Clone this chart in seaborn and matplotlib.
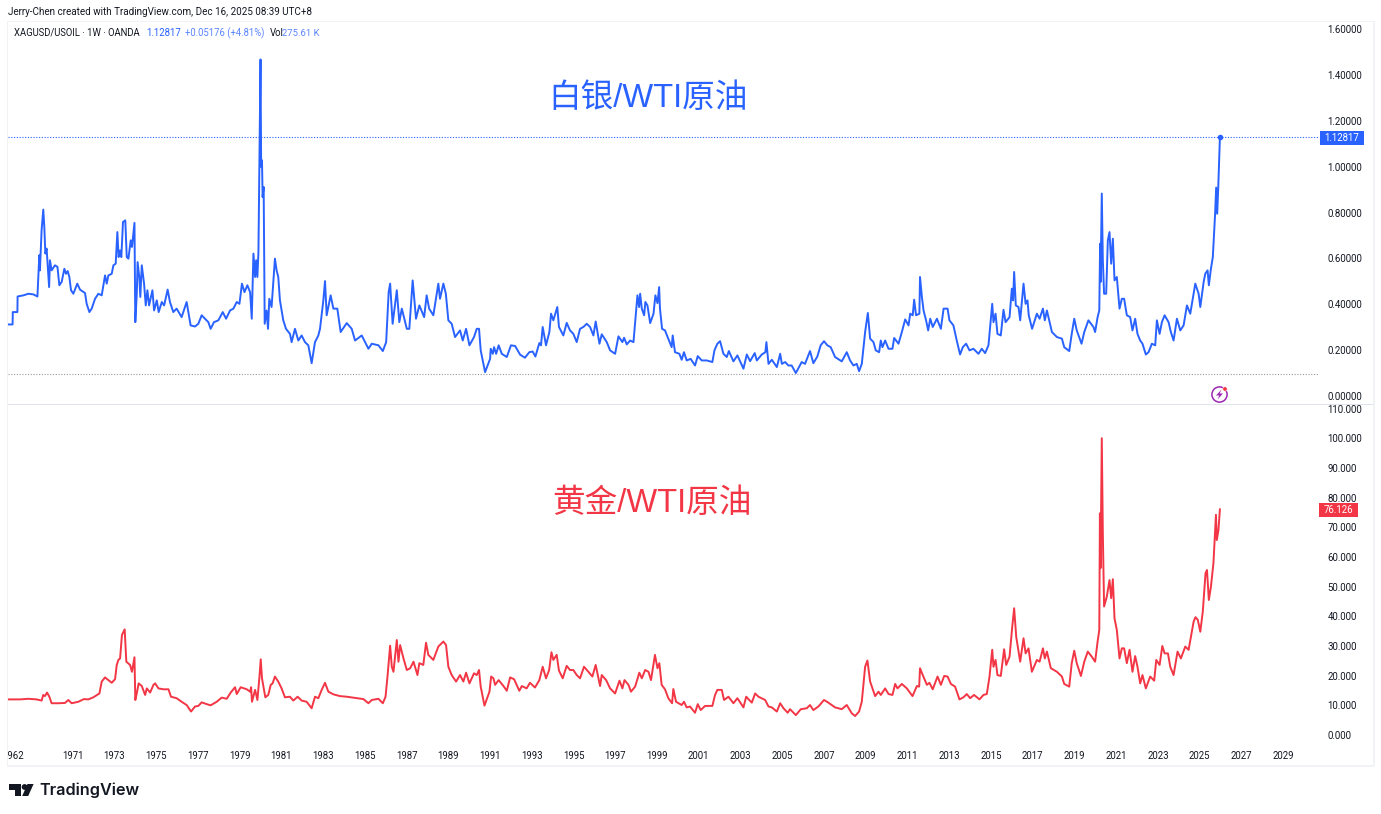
import matplotlib
matplotlib.use("Agg")
import matplotlib.pyplot as plt
import matplotlib.transforms as mtrans
from matplotlib.patches import Rectangle, Polygon, Circle
from matplotlib.ticker import FuncFormatter
import pandas as pd
import seaborn as sns

# ---- data: chart-scale years and ratio values ----
silver_years = [
1967.90,1968.12,1968.13,1968.35,1968.36,1968.64,1968.88,1969.12,1969.31,1969.37,
1969.40,1969.43,1969.51,1969.59,1969.64,1969.69,1969.75,1969.87,1969.91,1969.99,
1970.15,1970.27,1970.36,1970.47,1970.60,1970.68,1970.76,1970.84,1970.92,1971.03,
1971.22,1971.35,1971.59,1971.67,1971.80,1971.91,1972.07,1972.23,1972.39,1972.55,
1972.63,1972.71,1972.87,1972.95,1973.06,1973.14,1973.20,1973.27,1973.33,1973.41,
1973.52,1973.59,1973.67,1973.78,1973.84,1973.96,1974.00,1974.07,1974.11,1974.19,
1974.24,1974.31,1974.42,1974.50,1974.58,1974.66,1974.82,1974.90,1975.03,1975.12,
1975.27,1975.38,1975.55,1975.66,1975.82,1975.98,1976.22,1976.46,1976.65,1976.86,
1977.02,1977.18,1977.34,1977.50,1977.61,1977.77,1977.98,1978.19,1978.35,1978.54,
1978.70,1978.86,1978.99,1979.11,1979.23,1979.37,1979.50,1979.58,1979.66,1979.74,
1979.79,1979.85,1979.90,1979.96,1980.00,1980.03,1980.07,1980.10,1980.15,1980.20,
1980.29,1980.36,1980.42,1980.53,1980.69,1980.77,1980.85,1980.93,1981.09,1981.22,
1981.41,1981.49,1981.65,1981.81,1981.97,1982.13,1982.29,1982.45,1982.61,1982.77,
1982.85,1983.01,1983.09,1983.17,1983.36,1983.49,1983.68,1983.84,1984.13,1984.37,
1984.53,1984.85,1985.17,1985.33,1985.65,1985.86,1986.02,1986.14,1986.21,1986.33,
1986.53,1986.65,1986.77,1987.01,1987.13,1987.29,1987.45,1987.61,1987.84,1987.96,
1988.08,1988.28,1988.44,1988.52,1988.60,1988.76,1988.88,1989.00,1989.16,1989.32,
1989.56,1989.69,1989.85,1990.01,1990.23,1990.36,1990.47,1990.55,1990.76,1991.00,
1991.03,1991.13,1991.19,1991.29,1991.41,1991.56,1991.80,1992.00,1992.20,1992.44,
1992.67,1992.88,1993.04,1993.17,1993.36,1993.44,1993.52,1993.68,1993.84,1993.92,
1994.03,1994.22,1994.30,1994.51,1994.67,1994.83,1994.99,1995.15,1995.31,1995.47,
1995.63,1995.79,1995.95,1996.06,1996.24,1996.35,1996.59,1996.75,1996.99,1997.15,
1997.34,1997.42,1997.55,1997.71,1997.87,1997.98,1998.06,1998.14,1998.19,1998.27,
1998.38,1998.44,1998.54,1998.67,1998.83,1998.92,1999.02,1999.10,1999.14,1999.24,
1999.38,1999.54,1999.70,1999.75,1999.86,2000.07,2000.18,2000.29,2000.42,2000.61,
2000.82,2000.95,2001.14,2001.38,2001.65,2001.75,2001.89,2002.02,2002.18,2002.34,
2002.44,2002.66,2002.85,2003.14,2003.30,2003.46,2003.68,2003.78,2004.02,2004.19,
2004.24,2004.34,2004.50,2004.74,2004.90,2004.98,2005.14,2005.29,2005.45,2005.65,
2005.93,2006.09,2006.33,2006.49,2006.68,2006.84,2007.00,2007.16,2007.32,2007.53,
2007.85,2008.09,2008.25,2008.41,2008.57,2008.68,2008.81,2008.97,2009.10,2009.21,
2009.37,2009.48,2009.64,2009.72,2009.80,2009.93,2010.09,2010.28,2010.36,2010.57,
2010.73,2010.89,2011.05,2011.13,2011.25,2011.32,2011.41,2011.57,2011.60,2011.69,
2011.77,2011.89,2011.99,2012.09,2012.21,2012.41,2012.60,2012.73,2012.92,2013.01,
2013.20,2013.36,2013.52,2013.65,2013.81,2013.97,2014.16,2014.40,2014.56,2014.72,
2014.88,2014.96,2015.06,2015.12,2015.22,2015.31,2015.47,2015.60,2015.70,2015.89,
2016.00,2016.06,2016.11,2016.19,2016.32,2016.40,2016.56,2016.66,2016.75,2016.81,
2016.97,2017.20,2017.33,2017.49,2017.58,2017.68,2017.92,2018.16,2018.40,2018.51,
2018.75,2018.87,2018.99,2019.11,2019.34,2019.47,2019.67,2019.91,2019.99,2020.11,
2020.19,2020.23,2020.25,2020.31,2020.36,2020.42,2020.52,2020.60,2020.68,2020.76,
2020.84,2020.92,2021.03,2021.16,2021.27,2021.38,2021.51,2021.67,2021.78,2021.91,
2022.02,2022.15,2022.26,2022.42,2022.55,2022.71,2022.87,2022.95,2023.08,2023.19,
2023.32,2023.51,2023.62,2023.75,2023.91,2024.07,2024.23,2024.39,2024.55,2024.71,
2024.79,2024.95,2025.03,2025.19,2025.27,2025.38,2025.44,2025.54,2025.63,2025.74,
2025.79,2025.84,2025.89,2025.97]
silver_values = [
.312,.312,.366,.366,.434,.439,.446,.443,.434,.548,
.614,.548,.723,.813,.737,.621,.643,.475,.592,.548,
.570,.563,.483,.497,.555,.533,.545,.519,.461,.446,
.490,.464,.449,.402,.366,.381,.424,.446,.439,.526,
.490,.526,.533,.570,.577,.715,.606,.635,.606,.759,
.766,.606,.599,.679,.650,.755,.322,.446,.584,.519,
.432,.570,.490,.395,.461,.395,.461,.373,.417,.366,
.410,.395,.464,.410,.366,.381,.344,.410,.308,.303,
.315,.352,.337,.322,.293,.322,.330,.366,.337,.373,
.381,.410,.402,.490,.453,.483,.453,.337,.621,.519,
.592,.519,.628,1.130,1.468,.999,1.028,.868,.912,.315,
.373,.293,.424,.388,.599,.548,.519,.417,.330,.293,
.271,.235,.293,.242,.264,.235,.221,.143,.235,.264,
.293,.417,.501,.352,.439,.381,.381,.279,.318,.293,
.242,.264,.206,.228,.221,.196,.235,.453,.490,.315,
.461,.322,.381,.293,.293,.504,.337,.395,.344,.439,
.381,.352,.446,.490,.424,.490,.446,.330,.315,.257,
.286,.242,.293,.221,.257,.293,.293,.199,.104,.162,
.206,.184,.213,.184,.221,.184,.170,.221,.218,.180,
.167,.191,.194,.172,.231,.221,.301,.221,.279,.359,
.330,.388,.301,.264,.319,.286,.271,.235,.293,.301,
.315,.301,.264,.325,.228,.269,.235,.199,.184,.260,
.235,.254,.225,.242,.235,.352,.439,.388,.446,.381,
.352,.410,.395,.318,.359,.439,.405,.475,.381,.293,
.286,.250,.213,.264,.191,.184,.158,.191,.155,.162,
.133,.174,.155,.155,.148,.199,.228,.239,.184,.170,
.196,.151,.177,.119,.181,.152,.187,.155,.181,.191,
.235,.140,.158,.126,.184,.140,.148,.133,.133,.100,
.148,.140,.196,.143,.172,.221,.239,.221,.213,.170,
.151,.191,.155,.133,.140,.108,.140,.279,.362,.250,
.235,.199,.191,.242,.213,.242,.206,.206,.253,.228,
.279,.334,.308,.359,.352,.420,.352,.359,.519,.432,
.373,.330,.286,.337,.301,.337,.293,.381,.381,.330,
.308,.242,.181,.213,.228,.199,.206,.184,.206,.187,
.221,.301,.402,.322,.359,.271,.264,.376,.322,.344,
.468,.417,.541,.395,.388,.330,.490,.402,.417,.352,
.293,.359,.337,.381,.330,.373,.279,.257,.250,.213,
.196,.271,.337,.286,.228,.279,.330,.301,.279,.344,
.373,.664,.497,.883,.592,.446,.446,.679,.715,.577,
.686,.504,.519,.381,.424,.424,.352,.344,.286,.337,
.271,.242,.228,.181,.191,.228,.221,.330,.271,.322,
.352,.322,.279,.242,.337,.286,.308,.395,.359,.446,
.490,.446,.388,.497,.534,.548,.483,.555,.606,.795,
.909,.795,.909,1.12817]

gold_years = [
1967.90,1968.48,1968.88,1969.27,1969.51,1969.59,1969.67,1969.77,1969.88,1969.99,
1970.31,1970.63,1970.79,1970.95,1971.27,1971.54,1971.75,1971.99,1972.28,1972.39,
1972.55,1972.71,1972.87,1973.03,1973.11,1973.19,1973.27,1973.36,1973.49,1973.57,
1973.75,1973.84,1973.96,1974.00,1974.07,1974.16,1974.31,1974.47,1974.55,1974.71,
1974.87,1974.95,1975.11,1975.35,1975.59,1975.71,1975.98,1976.22,1976.46,1976.67,
1976.86,1977.02,1977.18,1977.42,1977.61,1977.90,1978.14,1978.38,1978.57,1978.78,
1978.86,1979.05,1979.34,1979.50,1979.55,1979.59,1979.74,1979.85,1979.95,1980.01,
1980.07,1980.23,1980.37,1980.49,1980.58,1980.69,1980.85,1981.01,1981.17,1981.41,
1981.57,1981.78,1981.97,1982.21,1982.45,1982.61,1982.77,1982.93,1983.09,1983.25,
1983.49,1983.81,1984.13,1984.53,1984.93,1985.17,1985.33,1985.65,1985.86,1985.99,
1986.09,1986.21,1986.29,1986.37,1986.53,1986.61,1986.69,1986.85,1987.01,1987.17,
1987.33,1987.52,1987.61,1987.80,1987.93,1988.04,1988.28,1988.52,1988.76,1988.89,
1989.00,1989.16,1989.37,1989.56,1989.72,1989.85,1990.01,1990.23,1990.36,1990.47,
1990.55,1990.73,1990.97,1991.05,1991.16,1991.24,1991.41,1991.64,1991.80,1991.96,
1992.15,1992.40,1992.52,1992.75,1992.91,1993.15,1993.36,1993.52,1993.68,1993.83,
1993.94,1994.03,1994.19,1994.30,1994.48,1994.67,1994.83,1994.99,1995.15,1995.31,
1995.50,1995.71,1995.90,1996.06,1996.27,1996.35,1996.56,1996.75,1996.99,1997.20,
1997.34,1997.44,1997.63,1997.75,1997.95,1998.15,1998.27,1998.43,1998.59,1998.71,
1998.90,1999.02,1999.11,1999.22,1999.38,1999.54,1999.72,1999.78,1999.91,2000.18,
2000.29,2000.42,2000.58,2000.82,2000.95,2001.09,2001.30,2001.65,2001.78,2001.89,
2002.10,2002.21,2002.42,2002.66,2002.85,2003.14,2003.27,2003.54,2003.70,2003.86,
2004.18,2004.34,2004.50,2004.74,2004.90,2005.06,2005.26,2005.37,2005.65,2005.89,
2006.17,2006.33,2006.49,2006.73,2007.00,2007.21,2007.53,2007.85,2008.09,2008.33,
2008.49,2008.68,2008.81,2008.97,2009.08,2009.21,2009.45,2009.61,2009.72,2009.93,
2010.09,2010.28,2010.41,2010.52,2010.73,2010.97,2011.24,2011.45,2011.56,2011.60,
2011.73,2011.93,2012.05,2012.21,2012.44,2012.60,2012.76,2012.92,2013.08,2013.28,
2013.49,2013.68,2013.84,2014.00,2014.19,2014.45,2014.64,2014.80,2014.93,2015.06,
2015.12,2015.22,2015.31,2015.47,2015.63,2015.73,2015.89,2016.02,2016.11,2016.21,
2016.40,2016.56,2016.66,2016.80,2016.96,2017.20,2017.33,2017.49,2017.58,2017.68,
2017.87,2018.16,2018.40,2018.51,2018.75,2018.87,2018.99,2019.11,2019.31,2019.47,
2019.64,2019.83,2019.99,2020.11,2020.19,2020.22,2020.25,2020.31,2020.36,2020.42,
2020.55,2020.68,2020.76,2020.84,2020.92,2021.03,2021.16,2021.27,2021.38,2021.51,
2021.64,2021.78,2021.91,2022.02,2022.15,2022.26,2022.42,2022.63,2022.82,2022.92,
2023.08,2023.21,2023.32,2023.48,2023.59,2023.75,2023.94,2024.10,2024.31,2024.47,
2024.71,2024.80,2024.91,2025.03,2025.15,2025.28,2025.35,2025.44,2025.54,2025.66,
2025.78,2025.82,2025.90,2025.97]
gold_values = [
12.0,12.0,12.2,12.0,11.6,13.5,13.1,14.3,12.9,10.7,
10.7,10.8,11.8,10.7,11.2,12.1,12.0,12.7,14.0,18.0,
19.4,18.5,17.6,18.8,23.6,25.3,25.8,33.7,35.6,24.7,
23.6,21.3,26.2,11.8,14.0,17.4,16.5,13.5,15.7,14.3,
16.9,17.4,15.7,15.4,15.4,12.9,12.4,11.2,10.1,7.9,
9.6,9.8,11.0,10.4,10.0,11.2,12.6,12.2,14.3,16.1,
13.8,16.1,15.4,14.6,16.1,11.2,15.2,11.8,19.7,25.5,
19.1,12.7,13.5,16.9,17.4,19.7,18.0,15.7,12.7,12.9,
11.6,12.9,11.6,11.2,9.0,12.9,12.4,15.2,17.6,14.6,
13.7,13.1,12.9,12.5,12.1,10.7,11.8,12.2,10.7,12.9,
20.2,30.1,23.0,21.3,32.0,24.7,30.3,25.8,21.9,22.5,
24.7,20.2,24.2,23.6,31.1,27.0,25.3,29.8,31.5,30.3,
23.0,20.2,18.0,20.2,18.0,21.0,17.4,20.8,20.2,21.9,
16.3,9.9,14.6,19.7,19.1,16.9,18.5,16.5,14.9,19.4,
18.8,14.9,16.5,15.7,17.6,16.0,18.5,23.0,19.1,21.9,
27.9,25.3,27.0,21.7,19.1,23.3,21.9,21.9,20.2,19.1,
23.0,21.3,19.7,23.6,16.5,20.2,18.5,15.7,14.0,18.3,
15.7,18.5,16.9,14.6,16.3,21.0,19.1,21.9,21.3,18.5,
27.0,22.5,24.2,16.9,15.4,12.4,10.7,15.5,11.2,10.1,
11.2,9.3,9.6,7.5,10.4,8.4,9.8,9.8,13.5,15.2,
15.2,11.8,12.9,10.7,12.4,9.3,12.9,10.9,14.0,12.9,
11.8,9.6,9.3,7.9,10.7,9.0,7.5,8.7,6.7,8.7,
9.0,10.1,8.4,9.6,11.8,10.9,9.3,8.7,10.1,7.3,
6.4,7.9,11.2,23.0,25.1,18.0,13.1,14.6,13.5,15.7,
13.8,13.5,17.2,15.7,17.2,15.7,13.1,16.5,16.3,22.5,
20.2,16.9,17.6,15.4,19.7,16.9,19.9,19.7,17.2,16.3,
12.0,12.7,13.8,12.4,13.5,12.0,13.5,13.8,19.7,28.7,
23.0,25.3,20.2,19.9,28.9,23.6,26.4,36.5,42.7,33.1,
24.7,32.6,27.5,29.2,21.3,25.3,24.7,29.2,25.8,28.1,
22.5,21.3,19.7,17.2,16.3,24.2,28.4,24.2,19.9,24.7,
28.1,26.4,24.7,31.5,35.4,74.7,56.2,100.0,68.0,43.3,
46.6,52.2,46.1,52.5,39.3,35.4,25.8,29.2,29.2,24.2,
28.7,21.3,26.6,23.0,17.4,20.2,15.7,19.7,18.3,25.3,
23.6,30.0,27.5,27.5,23.0,20.2,28.1,25.8,29.8,28.7,
38.2,39.7,38.8,34.8,41.6,54.5,55.6,45.5,50.0,57.9,
74.2,65.7,69.1,76.126]

silver_ticks = [0.0, 0.2, 0.4, 0.6, 0.8, 1.0, 1.2, 1.4, 1.6]
gold_ticks = [0, 10, 20, 30, 40, 50, 60, 70, 80, 90, 100, 110]
year_ticks = [1968.16] + list(range(1971, 2030, 2))
year_labels = ["1962"] + [str(y) for y in range(1971, 2030, 2)]
silver_low = 0.094
silver_last = 1.12817
gold_last = 76.126

BLUE = "#2962FF"
RED = "#F23645"
INK = "#131722"
W, H = 1381, 814

sns.set_theme(style="white")
plt.rcParams["font.family"] = ["Roboto", "Noto Sans CJK SC", "DejaVu Sans"]

fig = plt.figure(figsize=(W / 100, H / 100), dpi=100, facecolor="white")
# transform for page furniture given in pixels from the top-left corner
px = mtrans.Affine2D().scale(1 / W, -1 / H).translate(0, 1) + fig.transFigure


def axes_box(left, top, right, bottom):
    return [left / W, 1 - bottom / H, (right - left) / W, (bottom - top) / H]


ax1 = fig.add_axes(axes_box(8, 23, 1318, 404))
ax2 = fig.add_axes(axes_box(8, 405, 1318, 745))
xlim = (1967.90, 2030.67)

silver_df = pd.DataFrame({"year": silver_years, "ratio": silver_values})
gold_df = pd.DataFrame({"year": gold_years, "ratio": gold_values})
sns.lineplot(data=silver_df, x="year", y="ratio", ax=ax1, color=BLUE, lw=1.4,
             estimator=None, sort=False, errorbar=None)
sns.lineplot(data=gold_df, x="year", y="ratio", ax=ax2, color=RED, lw=1.4,
             estimator=None, sort=False, errorbar=None)

ax1.set_xlim(xlim)
ax2.set_xlim(xlim)
ax1.set_ylim(-0.035, 1.627)
ax2.set_ylim(-3.37, 111.2)

for ax, ticks, fmt in ((ax1, silver_ticks, "{:.5f}"), (ax2, gold_ticks, "{:.3f}")):
    sns.despine(ax=ax, left=True, bottom=True, right=True, top=True)
    ax.set_xlabel("")
    ax.set_ylabel("")
    ax.set_facecolor("none")
    ax.yaxis.tick_right()
    ax.set_yticks(ticks)
    ax.yaxis.set_major_formatter(FuncFormatter(lambda v, _, f=fmt: f.format(v)))
    ax.tick_params(axis="y", length=0, pad=7, labelsize=6.9, labelcolor=INK, right=True)
    ax.grid(False)

ax1.set_xticks([])
ax2.set_xticks(year_ticks)
ax2.set_xticklabels(year_labels)
ax2.tick_params(axis="x", length=0, pad=4, labelsize=6.9, labelcolor=INK)
clip = mtrans.Bbox.from_extents(8, 0, W, H)
first = ax2.get_xticklabels()[0]
first.set_clip_box(mtrans.TransformedBbox(clip, mtrans.IdentityTransform()))
first.set_clip_on(True)

# last-value and low markers
ax1.axhline(silver_last, color="#2962FF", lw=0.8, ls=(0, (1, 1.5)))
ax1.axhline(silver_low, color="#9598A1", lw=0.8, ls=(0, (1, 1.5)))
ax1.scatter([silver_years[-1]], [silver_last], s=16, color=BLUE, zorder=5, linewidths=0)

# page frame and divider
for box in [(7, 21, 1, 745), (1373, 21, 2, 745), (7, 21, 1367, 1), (7, 765, 1367, 2)]:
    fig.add_artist(Rectangle((box[0], box[1]), box[2], box[3], transform=px,
                             facecolor="#F0F2F5", edgecolor="none", zorder=0))
fig.add_artist(Rectangle((8, 404), 1365, 1, transform=px, facecolor="#E0E3EB",
                         edgecolor="none", zorder=1))

# header texts
fig.text(8, 12, "Jerry-Chen created with TradingView.com, Dec 16, 2025 08:39 UTC+8",
         transform=px, fontsize=7.08, color=INK, va="center", ha="left")
fig.text(14, 33, "XAGUSD/USOIL · 1W · OANDA", transform=px, fontsize=6.85, color=INK,
         va="center", ha="left")
fig.text(146.5, 33, "1.12817", transform=px, fontsize=6.95, color=BLUE, va="center", ha="left")
fig.text(185, 33, "+0.05176 (+4.81%)", transform=px, fontsize=6.85, color="#5B85FF",
         va="center", ha="left")
fig.text(270, 33, "Vol", transform=px, fontsize=6.95, color=INK, va="center", ha="left")
fig.text(282, 33, "275.61 K", transform=px, fontsize=6.8, color="#5B85FF", va="center", ha="left")

# chart titles
cjk = ["Liberation Sans", "Noto Sans CJK SC", "DejaVu Sans"]
fig.text(648, 98.5, "白银/WTI原油", transform=px, fontsize=23.5, color=BLUE, va="center",
         ha="center", family=cjk)
fig.text(652, 503.5, "黄金/WTI原油", transform=px, fontsize=23.5, color=RED, va="center",
         ha="center", family=cjk)

# last-price badges
fig.add_artist(Rectangle((1320, 131), 44, 13.5, transform=px, facecolor=BLUE, edgecolor="none"))
fig.text(1342, 137.7, "1.12817", transform=px, fontsize=6.9, color="white", va="center", ha="center")
fig.add_artist(Rectangle((1319, 503), 39, 13.5, transform=px, facecolor=RED, edgecolor="none"))
fig.text(1338.5, 509.7, "76.126", transform=px, fontsize=6.9, color="white", va="center", ha="center")

# lightning badge
fig.add_artist(Circle((1219.5, 394.5), 7.6, transform=px, facecolor="white",
                      edgecolor="#9C27B0", linewidth=1.1))
fig.add_artist(Polygon([(1221.5, 389.5), (1216, 395.5), (1219.3, 395.5), (1217.5, 399.5),
                        (1223, 393.5), (1219.7, 393.5)], transform=px,
                       facecolor="#9C27B0", edgecolor="none"))
fig.add_artist(Circle((1225, 389), 2.2, transform=px, facecolor="#F23645", edgecolor="white",
                      linewidth=0.4))

# TradingView logo
fig.add_artist(Polygon([(9.5, 784), (21.5, 784), (21.5, 796), (15.5, 796), (15.5, 790), (9.5, 790)],
                       transform=px, facecolor=INK, edgecolor="none"))
fig.add_artist(Circle((24.6, 787), 2.9, transform=px, facecolor=INK, edgecolor="none"))
fig.add_artist(Polygon([(27.5, 784), (33.6, 784), (28.2, 796), (22.2, 796)], transform=px,
                       facecolor=INK, edgecolor="none"))
fig.text(39.5, 790, "TradingView", transform=px, fontsize=11.7, color=INK, va="center", ha="left",
         family=["Inter", "DejaVu Sans"], fontweight="semibold")

fig.savefig("out.png", dpi=100, facecolor="white")
